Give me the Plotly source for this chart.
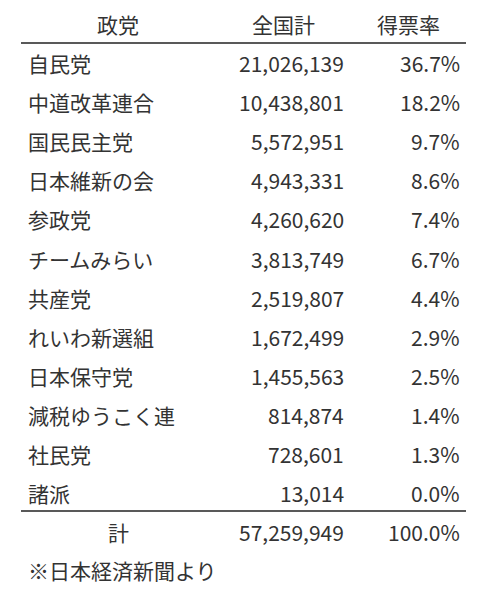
import plotly.graph_objects as go

# Data
parties = ['自民党', '中道改革連合', '国民民主党', '日本維新の会', '参政党', 'チームみらい',
           '共産党', 'れいわ新選組', '日本保守党', '減税ゆうこく連', '社民党', '諸派']
votes = [21026139, 10438801, 5572951, 4943331, 4260620, 3813749,
         2519807, 1672499, 1455563, 814874, 728601, 13014]
shares = [36.7, 18.2, 9.7, 8.6, 7.4, 6.7, 4.4, 2.9, 2.5, 1.4, 1.3, 0.0]
headers = ['政党', '全国計', '得票率']
total_label = '計'
total_votes = 57259949
total_share = 100.0
note = '※日本経済新聞より'

FONT = dict(family='Noto Sans CJK JP', size=21, color='#333333')
ROW0, ROW_H = 63, 39.1
OFF = 8  # page body margin

fig = go.Figure()
ann = []


def add(x, y, text, anchor):
    ann.append(dict(x=x, y=y, text=text, xanchor=anchor, yanchor='middle',
                    showarrow=False, font=FONT, xref='x', yref='y'))


# header
add(118, 24, headers[0], 'center')
add(283, 24, headers[1], 'center')
add(408, 24, headers[2], 'center')

for i, (p, v, s) in enumerate(zip(parties, votes, shares)):
    y = ROW0 + i * ROW_H
    add(26, y, p, 'left')
    add(346, y, f'{v:,}', 'right')
    add(462, y, f'{s:.1f}%', 'right')

add(118, 532, total_label, 'center')
add(346, 532, f'{total_votes:,}', 'right')
add(462, 532, f'{total_share:.1f}%', 'right')
add(26, 570, note, 'left')

shapes = [
    dict(type='line', x0=21, x1=466, y0=43, y1=43, xref='x', yref='y',
         line=dict(color='#222222', width=1.5)),
    dict(type='line', x0=21, x1=466, y0=511, y1=511, xref='x', yref='y',
         line=dict(color='#222222', width=1.5)),
]

fig.update_layout(
    width=480 - OFF, height=591 - OFF,
    margin=dict(l=0, r=0, t=0, b=0),
    paper_bgcolor='white', plot_bgcolor='white',
    xaxis=dict(range=[OFF, 480], visible=False, fixedrange=True),
    yaxis=dict(range=[591, OFF], visible=False, fixedrange=True),
    annotations=ann, shapes=shapes, showlegend=False
)

fig.write_html('out.html')
